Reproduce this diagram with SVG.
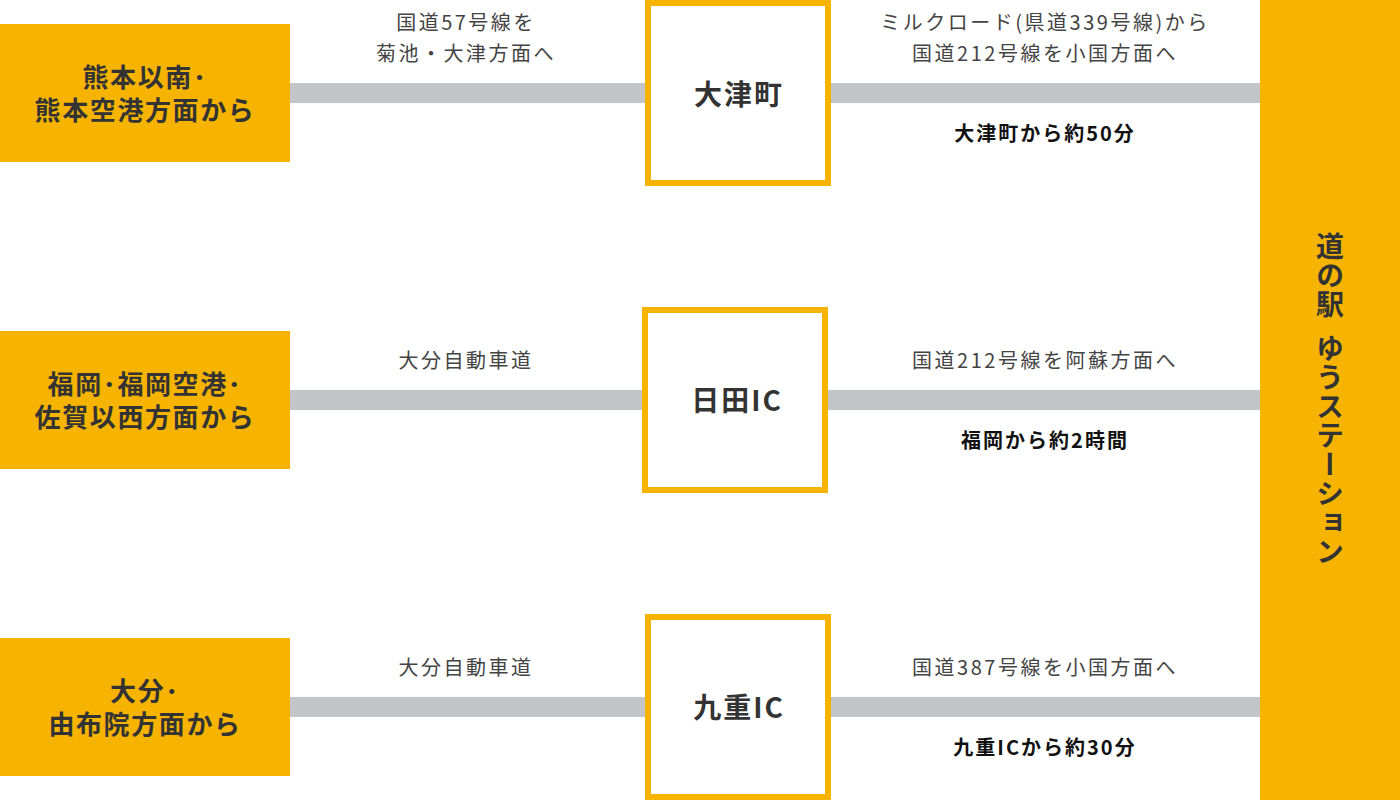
<svg xmlns="http://www.w3.org/2000/svg" width="1400" height="800" viewBox="0 0 1400 800">
<style>
text{font-family:"Noto Sans CJK JP","Noto Sans",sans-serif;}
.src{fill:#F6B400;}
.srct{font-size:26px;font-weight:700;fill:#333;text-anchor:middle;letter-spacing:1.6px;}
.hub{fill:#fff;stroke:#F6B400;stroke-width:6;}
.hubt{font-size:28px;font-weight:700;fill:#333;text-anchor:middle;letter-spacing:2px;}
.road{fill:#C2C6C9;}
.lbl{font-size:20px;fill:#444;text-anchor:middle;letter-spacing:2.5px;}
.time{font-size:20px;font-weight:700;fill:#111;text-anchor:middle;letter-spacing:2px;}
.dest{fill:#F6B400;}
.destt{font-size:28px;font-weight:700;fill:#333;writing-mode:vertical-rl;letter-spacing:1px;}
</style>
<g id="connectors">
<rect class="road" x="290" y="83" width="358" height="20"/>
<rect class="road" x="828" y="83" width="432" height="20"/>
<rect class="road" x="290" y="390" width="355" height="20"/>
<rect class="road" x="825" y="390" width="435" height="20"/>
<rect class="road" x="290" y="697" width="358" height="20"/>
<rect class="road" x="828" y="697" width="432" height="20"/>
</g>
<g id="labels">
<text class="lbl" x="466" y="29.5">国道57号線を</text>
<text class="lbl" x="466" y="61">菊池・大津方面へ</text>
<text class="lbl" x="1045" y="29.5">ミルクロード(県道339号線)から</text>
<text class="lbl" x="1045" y="61">国道212号線を小国方面へ</text>
<text class="time" x="1045" y="140.5">大津町から約50分</text>
<text class="lbl" x="466" y="367.5">大分自動車道</text>
<text class="lbl" x="1045" y="367.5">国道212号線を阿蘇方面へ</text>
<text class="time" x="1045" y="447.5">福岡から約2時間</text>
<text class="lbl" x="466" y="674.5">大分自動車道</text>
<text class="lbl" x="1045" y="674.5">国道387号線を小国方面へ</text>
<text class="time" x="1045" y="754.5">九重ICから約30分</text>
</g>
<g id="src-kumamoto">
<rect class="src" x="0" y="24" width="290" height="138"/>
<text class="srct" x="145" y="87">熊本以南･</text>
<text class="srct" x="145" y="120">熊本空港方面から</text>
</g>
<g id="src-fukuoka">
<rect class="src" x="0" y="331" width="290" height="138"/>
<text class="srct" x="145" y="394">福岡･福岡空港･</text>
<text class="srct" x="145" y="427">佐賀以西方面から</text>
</g>
<g id="src-oita">
<rect class="src" x="0" y="638" width="290" height="138"/>
<text class="srct" x="145" y="701">大分･</text>
<text class="srct" x="145" y="734">由布院方面から</text>
</g>
<g id="hub-ozu">
<rect class="hub" x="648" y="3" width="180" height="180"/>
<text class="hubt" x="739" y="105">大津町</text>
</g>
<g id="hub-hita">
<rect class="hub" x="645" y="310" width="180" height="180"/>
<text class="hubt" x="737" y="411">日田IC</text>
</g>
<g id="hub-kokonoe">
<rect class="hub" x="648" y="617" width="180" height="180"/>
<text class="hubt" x="739" y="718">九重IC</text>
</g>
<g id="dest-yustation">
<rect class="dest" x="1260" y="0" width="140" height="800"/>
<text class="destt" x="1330" y="232">道の駅</text>
<text class="destt" x="1330" y="334">ゆうステーション</text>
</g>
</svg>
